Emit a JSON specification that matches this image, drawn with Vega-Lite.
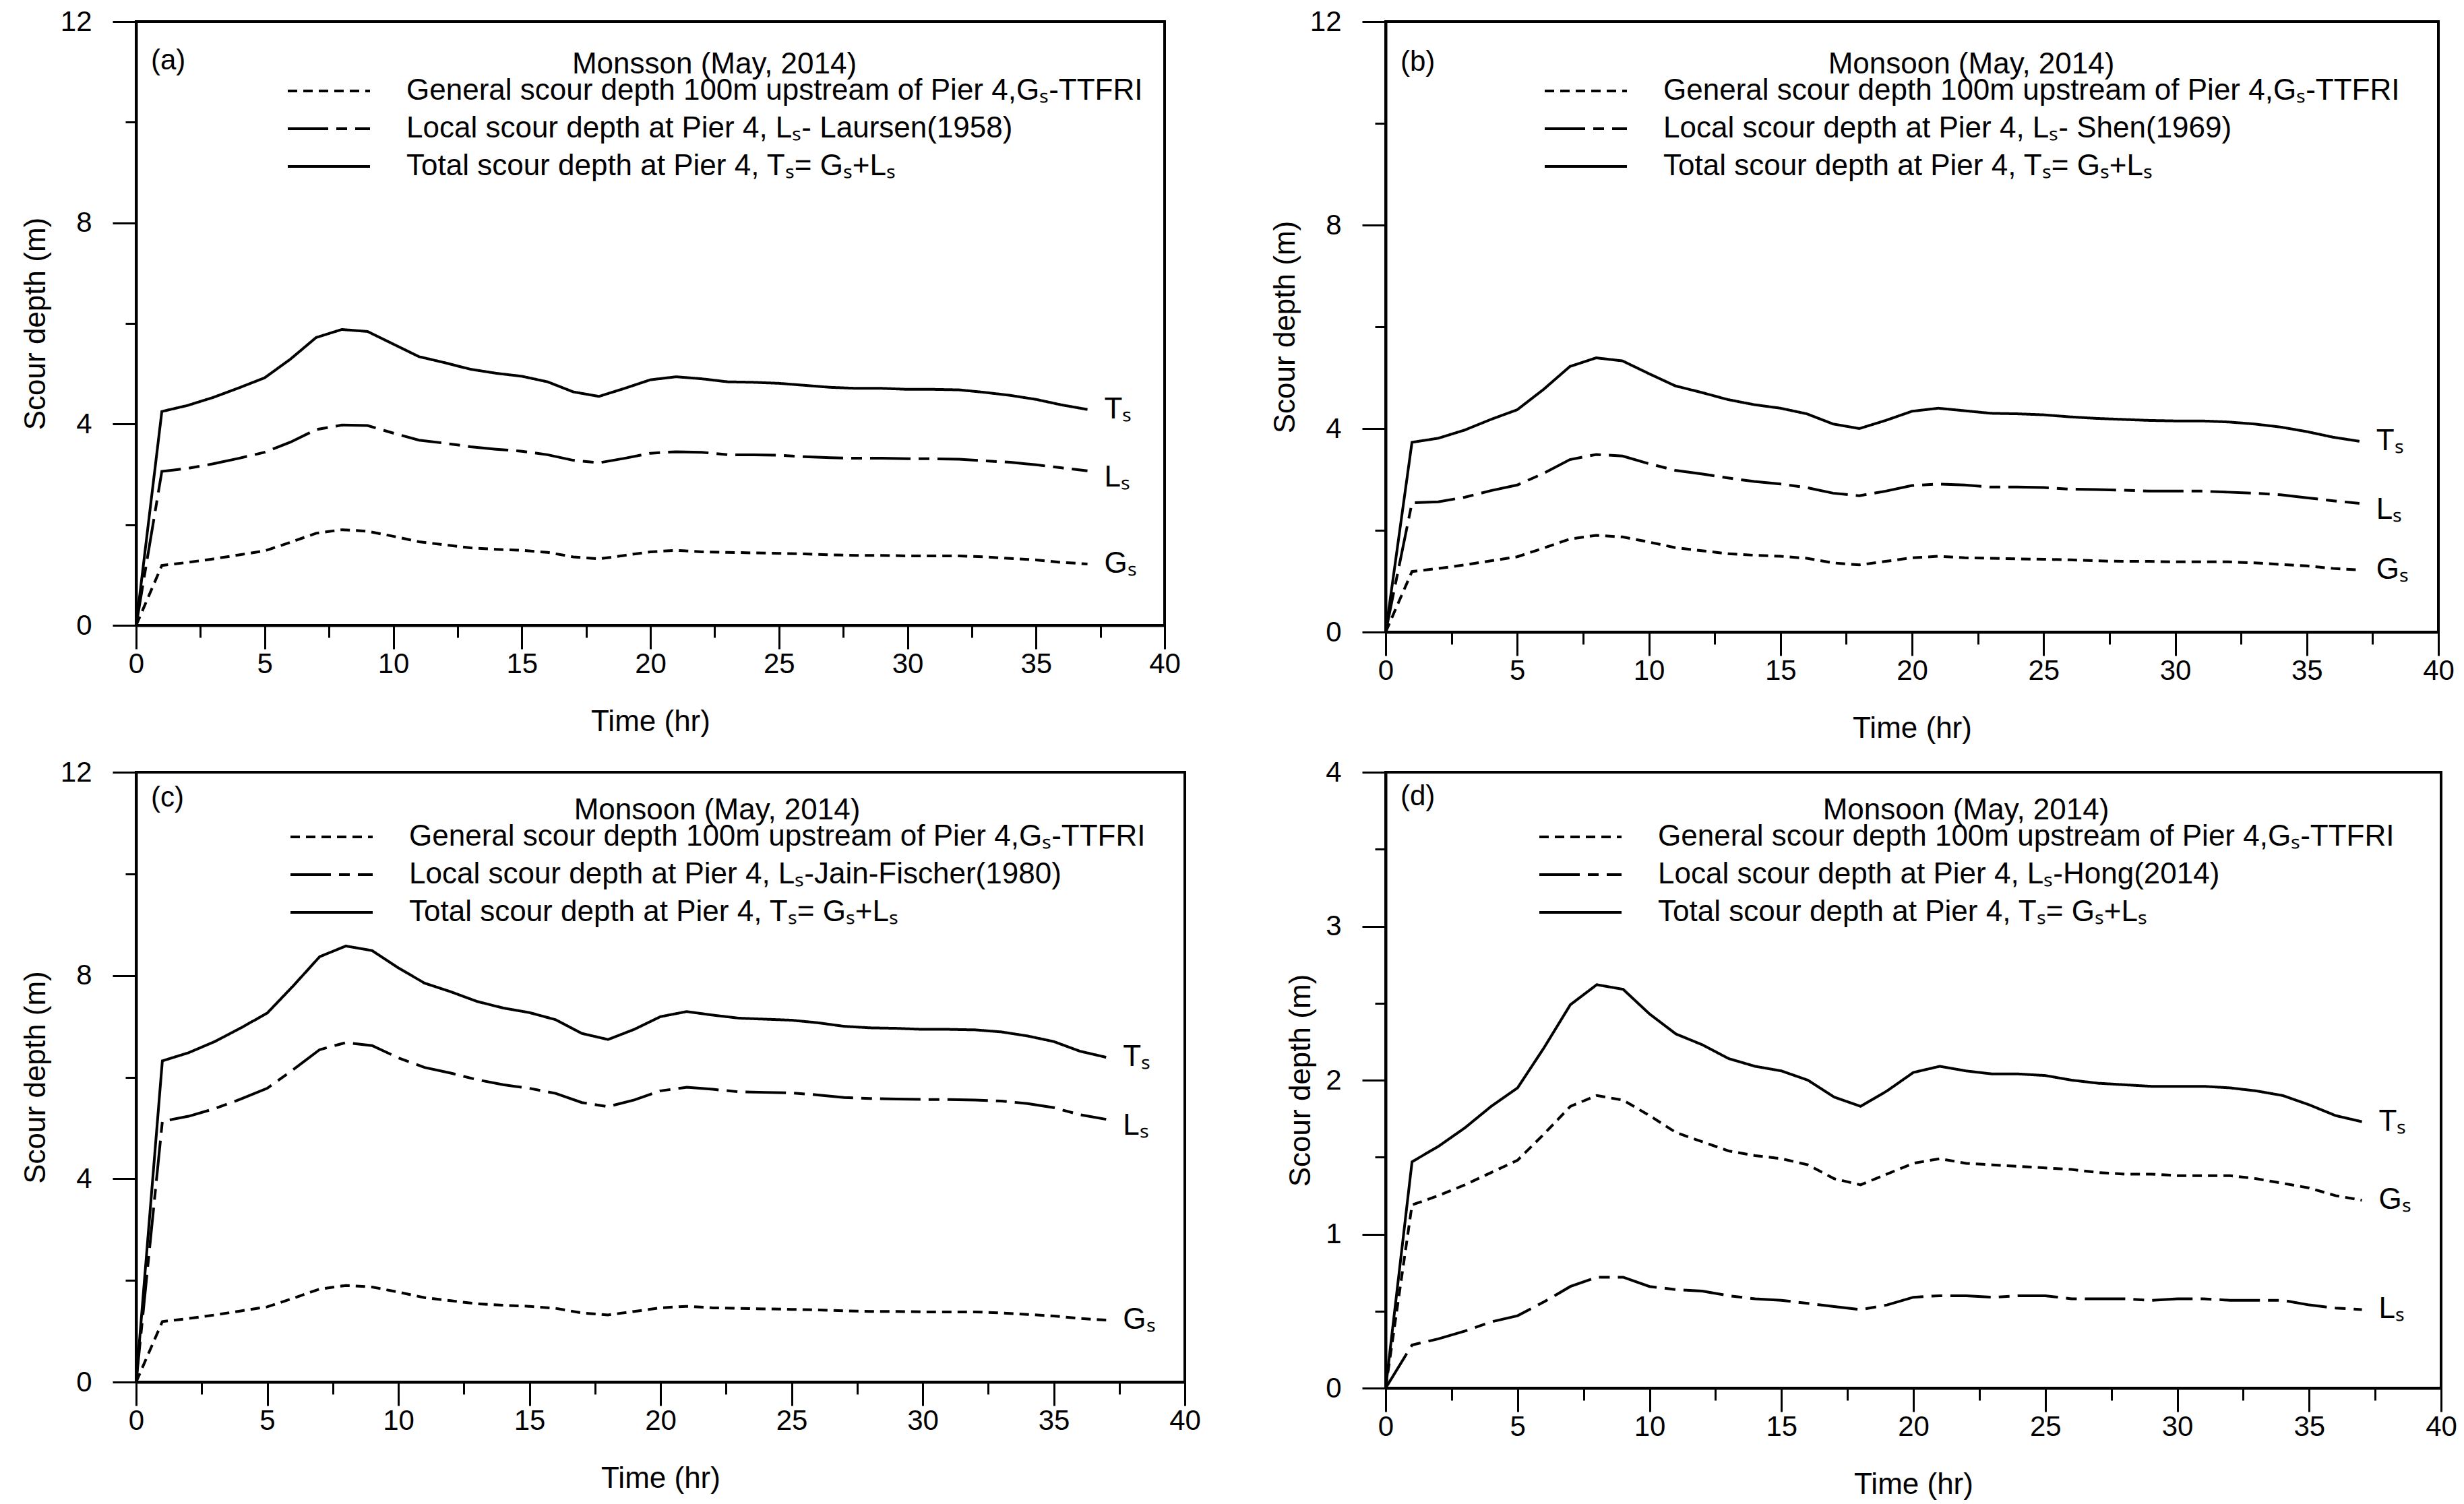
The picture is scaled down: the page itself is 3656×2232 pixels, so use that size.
{
  "$schema": "https://vega.github.io/schema/vega-lite/v6.json",
  "padding": {"left": 29, "top": 9, "right": 10, "bottom": 10},
  "background": "white",
  "datasets": {
    "scour": [
      {"t":0,"G":0,"La":0,"Ta":0,"Lb":0,"Tb":0,"Lc":0,"Tc":0,"Ld":0,"Td":0},
      {"t":1,"G":1.19,"La":3.06,"Ta":4.25,"Lb":2.54,"Tb":3.73,"Lc":5.13,"Tc":6.32,"Ld":0.28,"Td":1.47},
      {"t":2,"G":1.25,"La":3.12,"Ta":4.37,"Lb":2.56,"Tb":3.81,"Lc":5.23,"Tc":6.48,"Ld":0.32,"Td":1.57},
      {"t":3,"G":1.32,"La":3.21,"Ta":4.53,"Lb":2.65,"Tb":3.97,"Lc":5.38,"Tc":6.70,"Ld":0.37,"Td":1.69},
      {"t":4,"G":1.40,"La":3.32,"Ta":4.72,"Lb":2.78,"Tb":4.18,"Lc":5.57,"Tc":6.97,"Ld":0.43,"Td":1.83},
      {"t":5,"G":1.48,"La":3.44,"Ta":4.92,"Lb":2.89,"Tb":4.37,"Lc":5.78,"Tc":7.26,"Ld":0.47,"Td":1.95},
      {"t":6,"G":1.65,"La":3.64,"Ta":5.29,"Lb":3.12,"Tb":4.77,"Lc":6.15,"Tc":7.80,"Ld":0.56,"Td":2.21},
      {"t":7,"G":1.83,"La":3.89,"Ta":5.72,"Lb":3.39,"Tb":5.22,"Lc":6.54,"Tc":8.37,"Ld":0.66,"Td":2.49},
      {"t":8,"G":1.90,"La":3.98,"Ta":5.88,"Lb":3.49,"Tb":5.39,"Lc":6.68,"Tc":8.58,"Ld":0.72,"Td":2.62},
      {"t":9,"G":1.87,"La":3.97,"Ta":5.84,"Lb":3.46,"Tb":5.33,"Lc":6.62,"Tc":8.49,"Ld":0.72,"Td":2.59},
      {"t":10,"G":1.77,"La":3.82,"Ta":5.59,"Lb":3.31,"Tb":5.08,"Lc":6.38,"Tc":8.15,"Ld":0.66,"Td":2.43},
      {"t":11,"G":1.66,"La":3.68,"Ta":5.34,"Lb":3.18,"Tb":4.84,"Lc":6.19,"Tc":7.85,"Ld":0.64,"Td":2.30},
      {"t":12,"G":1.60,"La":3.62,"Ta":5.22,"Lb":3.11,"Tb":4.71,"Lc":6.08,"Tc":7.68,"Ld":0.63,"Td":2.23},
      {"t":13,"G":1.54,"La":3.55,"Ta":5.09,"Lb":3.03,"Tb":4.57,"Lc":5.95,"Tc":7.49,"Ld":0.60,"Td":2.14},
      {"t":14,"G":1.51,"La":3.50,"Ta":5.01,"Lb":2.96,"Tb":4.47,"Lc":5.85,"Tc":7.36,"Ld":0.58,"Td":2.09},
      {"t":15,"G":1.49,"La":3.46,"Ta":4.95,"Lb":2.91,"Tb":4.40,"Lc":5.78,"Tc":7.27,"Ld":0.57,"Td":2.06},
      {"t":16,"G":1.45,"La":3.39,"Ta":4.84,"Lb":2.84,"Tb":4.29,"Lc":5.68,"Tc":7.13,"Ld":0.55,"Td":2.00},
      {"t":17,"G":1.36,"La":3.28,"Ta":4.64,"Lb":2.73,"Tb":4.09,"Lc":5.50,"Tc":6.86,"Ld":0.53,"Td":1.89},
      {"t":18,"G":1.32,"La":3.23,"Ta":4.55,"Lb":2.68,"Tb":4.00,"Lc":5.42,"Tc":6.74,"Ld":0.51,"Td":1.83},
      {"t":19,"G":1.39,"La":3.32,"Ta":4.71,"Lb":2.77,"Tb":4.16,"Lc":5.55,"Tc":6.94,"Ld":0.54,"Td":1.93},
      {"t":20,"G":1.46,"La":3.42,"Ta":4.88,"Lb":2.88,"Tb":4.34,"Lc":5.73,"Tc":7.19,"Ld":0.59,"Td":2.05},
      {"t":21,"G":1.49,"La":3.45,"Ta":4.94,"Lb":2.91,"Tb":4.40,"Lc":5.80,"Tc":7.29,"Ld":0.60,"Td":2.09},
      {"t":22,"G":1.46,"La":3.44,"Ta":4.90,"Lb":2.89,"Tb":4.35,"Lc":5.76,"Tc":7.22,"Ld":0.60,"Td":2.06},
      {"t":23,"G":1.45,"La":3.39,"Ta":4.84,"Lb":2.85,"Tb":4.30,"Lc":5.71,"Tc":7.16,"Ld":0.59,"Td":2.04},
      {"t":24,"G":1.44,"La":3.39,"Ta":4.83,"Lb":2.85,"Tb":4.29,"Lc":5.70,"Tc":7.14,"Ld":0.60,"Td":2.04},
      {"t":25,"G":1.43,"La":3.38,"Ta":4.81,"Lb":2.84,"Tb":4.27,"Lc":5.69,"Tc":7.12,"Ld":0.60,"Td":2.03},
      {"t":26,"G":1.42,"La":3.35,"Ta":4.77,"Lb":2.81,"Tb":4.23,"Lc":5.65,"Tc":7.07,"Ld":0.58,"Td":2.00},
      {"t":27,"G":1.40,"La":3.33,"Ta":4.73,"Lb":2.80,"Tb":4.20,"Lc":5.60,"Tc":7.00,"Ld":0.58,"Td":1.98},
      {"t":28,"G":1.39,"La":3.32,"Ta":4.71,"Lb":2.79,"Tb":4.18,"Lc":5.58,"Tc":6.97,"Ld":0.58,"Td":1.97},
      {"t":29,"G":1.39,"La":3.32,"Ta":4.71,"Lb":2.77,"Tb":4.16,"Lc":5.57,"Tc":6.96,"Ld":0.57,"Td":1.96},
      {"t":30,"G":1.38,"La":3.31,"Ta":4.69,"Lb":2.77,"Tb":4.15,"Lc":5.56,"Tc":6.94,"Ld":0.58,"Td":1.96},
      {"t":31,"G":1.38,"La":3.31,"Ta":4.69,"Lb":2.77,"Tb":4.15,"Lc":5.56,"Tc":6.94,"Ld":0.58,"Td":1.96},
      {"t":32,"G":1.38,"La":3.30,"Ta":4.68,"Lb":2.75,"Tb":4.13,"Lc":5.55,"Tc":6.93,"Ld":0.57,"Td":1.95},
      {"t":33,"G":1.36,"La":3.27,"Ta":4.63,"Lb":2.73,"Tb":4.09,"Lc":5.53,"Tc":6.89,"Ld":0.57,"Td":1.93},
      {"t":34,"G":1.33,"La":3.24,"Ta":4.57,"Lb":2.70,"Tb":4.03,"Lc":5.48,"Tc":6.81,"Ld":0.57,"Td":1.90},
      {"t":35,"G":1.30,"La":3.19,"Ta":4.49,"Lb":2.64,"Tb":3.94,"Lc":5.40,"Tc":6.70,"Ld":0.54,"Td":1.84},
      {"t":36,"G":1.25,"La":3.13,"Ta":4.38,"Lb":2.58,"Tb":3.83,"Lc":5.26,"Tc":6.51,"Ld":0.52,"Td":1.77},
      {"t":37,"G":1.22,"La":3.07,"Ta":4.29,"Lb":2.53,"Tb":3.75,"Lc":5.17,"Tc":6.39,"Ld":0.51,"Td":1.73}
    ]
  },
  "data": {"name": "scour"},
  "config": {
    "font": "Liberation Sans",
    "view": {"stroke": "black", "strokeWidth": 4},
    "axis": {
      "grid": false,
      "domainColor": "black",
      "domainWidth": 4,
      "tickColor": "black",
      "tickWidth": 3,
      "labelColor": "black",
      "labelFont": "Liberation Sans",
      "labelFontSize": 42,
      "labelFlush": false,
      "labelOverlap": false,
      "titleFont": "Liberation Sans",
      "titleFontSize": 44,
      "titleFontWeight": "normal",
      "titleColor": "black",
      "format": "d"
    },
    "legend": {
      "orient": "none",
      "titleFont": "Liberation Sans",
      "titleFontSize": 44,
      "titleFontWeight": "normal",
      "titleColor": "black",
      "titleAnchor": "middle",
      "titlePadding": -5,
      "titleLimit": 3000,
      "labelFont": "Liberation Sans",
      "labelFontSize": 44,
      "labelColor": "black",
      "labelLimit": 3000,
      "labelOffset": 52,
      "symbolType": "stroke",
      "symbolSize": 14884,
      "symbolStrokeWidth": 4,
      "symbolStrokeColor": "black",
      "clipHeight": 44,
      "rowPadding": 12,
      "padding": 0
    },
    "title": {"font": "Liberation Sans", "fontSize": 42, "fontWeight": "normal", "color": "black"}
  },
  "resolve": {
    "scale": {"x": "independent", "y": "independent", "strokeDash": "independent"},
    "axis": {"x": "independent", "y": "independent"},
    "legend": {"strokeDash": "independent"}
  },
  "bounds": "flush",
  "align": "each",
  "columns": 2,
  "spacing": {"row": 208, "column": 298},
  "concat": [
    {
      "width": 1526, "height": 896,
      "title": {"text": "(a)", "anchor": "start", "frame": "group", "orient": "top", "offset": 0, "dx": 22, "dy": 121, "baseline": "middle"},
      "layer": [
        {
          "transform": [{"fold": ["G", "La", "Ta"], "as": ["k", "v"]}],
          "mark": {"type": "line", "color": "black", "strokeWidth": 4},
          "encoding": {
            "x": {"field": "t", "type": "quantitative", "scale": {"domain": [0, 40], "nice": false},
                  "axis": {"title": "Time (hr)", "values": [0,2.5,5,7.5,10,12.5,15,17.5,20,22.5,25,27.5,30,32.5,35,37.5,40],
                           "labelExpr": "datum.value % 5 === 0 ? datum.label : ''",
                           "tickSize": {"condition": {"test": "datum.value % 5 === 0", "value": 35}, "value": 18},
                           "labelPadding": 2, "titlePadding": 43}},
            "y": {"field": "v", "type": "quantitative", "scale": {"domain": [0, 12], "nice": false},
                  "axis": {"title": "Scour depth (m)", "values": [0,2,4,6,8,10,12],
                           "labelExpr": "datum.value % 4 === 0 ? datum.label : ''",
                           "tickSize": {"condition": {"test": "datum.value % 4 === 0", "value": 35}, "value": 16},
                           "labelPadding": 31, "titlePadding": 14}},
            "strokeDash": {"field": "k", "type": "nominal",
                           "scale": {"domain": ["G", "La", "Ta"], "range": [[14, 9], [60, 12, 16, 12], [1, 0]]},
                           "legend": {"title": "Monsson (May, 2014)", "legendX": 223, "legendY": 42,
                                      "labelExpr": "datum.label == 'G' ? 'General scour depth 100m upstream of Pier 4,Gₛ-TTFRI' : datum.label == 'La' ? 'Local scour depth at Pier 4, Lₛ- Laursen(1958)' : 'Total scour depth at Pier 4, Tₛ= Gₛ+Lₛ'"}}
          }
        },
        {
          "transform": [{"filter": "datum.t == 37"}],
          "mark": {"type": "text", "text": "Tₛ", "align": "left", "baseline": "middle", "dx": 25, "fontSize": 44, "color": "black"},
          "encoding": {"x": {"field": "t", "type": "quantitative"}, "y": {"field": "Ta", "type": "quantitative"}}
        },
        {
          "transform": [{"filter": "datum.t == 37"}],
          "mark": {"type": "text", "text": "Lₛ", "align": "left", "baseline": "middle", "dx": 25, "dy": 10, "fontSize": 44, "color": "black"},
          "encoding": {"x": {"field": "t", "type": "quantitative"}, "y": {"field": "La", "type": "quantitative"}}
        },
        {
          "transform": [{"filter": "datum.t == 37"}],
          "mark": {"type": "text", "text": "Gₛ", "align": "left", "baseline": "middle", "dx": 25, "fontSize": 44, "color": "black"},
          "encoding": {"x": {"field": "t", "type": "quantitative"}, "y": {"field": "G", "type": "quantitative"}}
        }
      ]
    },
    {
      "width": 1562, "height": 906,
      "title": {"text": "(b)", "anchor": "start", "frame": "group", "orient": "top", "offset": 0, "dx": 22, "dy": 123, "baseline": "middle"},
      "layer": [
        {
          "transform": [{"fold": ["G", "Lb", "Tb"], "as": ["k", "v"]}],
          "mark": {"type": "line", "color": "black", "strokeWidth": 4},
          "encoding": {
            "x": {"field": "t", "type": "quantitative", "scale": {"domain": [0, 40], "nice": false},
                  "axis": {"title": "Time (hr)", "values": [0,2.5,5,7.5,10,12.5,15,17.5,20,22.5,25,27.5,30,32.5,35,37.5,40],
                           "labelExpr": "datum.value % 5 === 0 ? datum.label : ''",
                           "tickSize": {"condition": {"test": "datum.value % 5 === 0", "value": 35}, "value": 18},
                           "labelPadding": 2, "titlePadding": 43}},
            "y": {"field": "v", "type": "quantitative", "scale": {"domain": [0, 12], "nice": false},
                  "axis": {"title": "Scour depth (m)", "values": [0,2,4,6,8,10,12],
                           "labelExpr": "datum.value % 4 === 0 ? datum.label : ''",
                           "tickSize": {"condition": {"test": "datum.value % 4 === 0", "value": 35}, "value": 16},
                           "labelPadding": 31, "titlePadding": 14}},
            "strokeDash": {"field": "k", "type": "nominal",
                           "scale": {"domain": ["G", "Lb", "Tb"], "range": [[14, 9], [60, 12, 16, 12], [1, 0]]},
                           "legend": {"title": "Monsoon (May, 2014)", "legendX": 234, "legendY": 42,
                                      "labelExpr": "datum.label == 'G' ? 'General scour depth 100m upstream of Pier 4,Gₛ-TTFRI' : datum.label == 'Lb' ? 'Local scour depth at Pier 4, Lₛ- Shen(1969)' : 'Total scour depth at Pier 4, Tₛ= Gₛ+Lₛ'"}}
          }
        },
        {
          "transform": [{"filter": "datum.t == 37"}],
          "mark": {"type": "text", "text": "Tₛ", "align": "left", "baseline": "middle", "dx": 25, "fontSize": 44, "color": "black"},
          "encoding": {"x": {"field": "t", "type": "quantitative"}, "y": {"field": "Tb", "type": "quantitative"}}
        },
        {
          "transform": [{"filter": "datum.t == 37"}],
          "mark": {"type": "text", "text": "Lₛ", "align": "left", "baseline": "middle", "dx": 25, "dy": 10, "fontSize": 44, "color": "black"},
          "encoding": {"x": {"field": "t", "type": "quantitative"}, "y": {"field": "Lb", "type": "quantitative"}}
        },
        {
          "transform": [{"filter": "datum.t == 37"}],
          "mark": {"type": "text", "text": "Gₛ", "align": "left", "baseline": "middle", "dx": 25, "fontSize": 44, "color": "black"},
          "encoding": {"x": {"field": "t", "type": "quantitative"}, "y": {"field": "G", "type": "quantitative"}}
        }
      ]
    },
    {
      "width": 1556, "height": 905,
      "title": {"text": "(c)", "anchor": "start", "frame": "group", "orient": "top", "offset": 0, "dx": 22, "dy": 101, "baseline": "middle"},
      "layer": [
        {
          "transform": [{"fold": ["G", "Lc", "Tc"], "as": ["k", "v"]}],
          "mark": {"type": "line", "color": "black", "strokeWidth": 4},
          "encoding": {
            "x": {"field": "t", "type": "quantitative", "scale": {"domain": [0, 40], "nice": false},
                  "axis": {"title": "Time (hr)", "values": [0,2.5,5,7.5,10,12.5,15,17.5,20,22.5,25,27.5,30,32.5,35,37.5,40],
                           "labelExpr": "datum.value % 5 === 0 ? datum.label : ''",
                           "tickSize": {"condition": {"test": "datum.value % 5 === 0", "value": 35}, "value": 18},
                           "labelPadding": 2, "titlePadding": 43}},
            "y": {"field": "v", "type": "quantitative", "scale": {"domain": [0, 12], "nice": false},
                  "axis": {"title": "Scour depth (m)", "values": [0,2,4,6,8,10,12],
                           "labelExpr": "datum.value % 4 === 0 ? datum.label : ''",
                           "tickSize": {"condition": {"test": "datum.value % 4 === 0", "value": 35}, "value": 16},
                           "labelPadding": 31, "titlePadding": 14}},
            "strokeDash": {"field": "k", "type": "nominal",
                           "scale": {"domain": ["G", "Lc", "Tc"], "range": [[14, 9], [60, 12, 16, 12], [1, 0]]},
                           "legend": {"title": "Monsoon (May, 2014)", "legendX": 227, "legendY": 35,
                                      "labelExpr": "datum.label == 'G' ? 'General scour depth 100m upstream of Pier 4,Gₛ-TTFRI' : datum.label == 'Lc' ? 'Local scour depth at Pier 4, Lₛ-Jain-Fischer(1980)' : 'Total scour depth at Pier 4, Tₛ= Gₛ+Lₛ'"}}
          }
        },
        {
          "transform": [{"filter": "datum.t == 37"}],
          "mark": {"type": "text", "text": "Tₛ", "align": "left", "baseline": "middle", "dx": 25, "fontSize": 44, "color": "black"},
          "encoding": {"x": {"field": "t", "type": "quantitative"}, "y": {"field": "Tc", "type": "quantitative"}}
        },
        {
          "transform": [{"filter": "datum.t == 37"}],
          "mark": {"type": "text", "text": "Lₛ", "align": "left", "baseline": "middle", "dx": 25, "dy": 10, "fontSize": 44, "color": "black"},
          "encoding": {"x": {"field": "t", "type": "quantitative"}, "y": {"field": "Lc", "type": "quantitative"}}
        },
        {
          "transform": [{"filter": "datum.t == 37"}],
          "mark": {"type": "text", "text": "Gₛ", "align": "left", "baseline": "middle", "dx": 25, "fontSize": 44, "color": "black"},
          "encoding": {"x": {"field": "t", "type": "quantitative"}, "y": {"field": "G", "type": "quantitative"}}
        }
      ]
    },
    {
      "width": 1566, "height": 914,
      "title": {"text": "(d)", "anchor": "start", "frame": "group", "orient": "top", "offset": 0, "dx": 22, "dy": 99, "baseline": "middle"},
      "layer": [
        {
          "transform": [{"fold": ["G", "Ld", "Td"], "as": ["k", "v"]}],
          "mark": {"type": "line", "color": "black", "strokeWidth": 4},
          "encoding": {
            "x": {"field": "t", "type": "quantitative", "scale": {"domain": [0, 40], "nice": false},
                  "axis": {"title": "Time (hr)", "values": [0,2.5,5,7.5,10,12.5,15,17.5,20,22.5,25,27.5,30,32.5,35,37.5,40],
                           "labelExpr": "datum.value % 5 === 0 ? datum.label : ''",
                           "tickSize": {"condition": {"test": "datum.value % 5 === 0", "value": 35}, "value": 18},
                           "labelPadding": 2, "titlePadding": 43}},
            "y": {"field": "v", "type": "quantitative", "scale": {"domain": [0, 4], "nice": false},
                  "axis": {"title": "Scour depth (m)", "values": [0,0.5,1,1.5,2,2.5,3,3.5,4],
                           "labelExpr": "datum.value % 1 === 0 ? datum.label : ''",
                           "tickSize": {"condition": {"test": "datum.value % 1 === 0", "value": 35}, "value": 16},
                           "labelPadding": 31, "titlePadding": 14}},
            "strokeDash": {"field": "k", "type": "nominal",
                           "scale": {"domain": ["G", "Ld", "Td"], "range": [[14, 9], [60, 12, 16, 12], [1, 0]]},
                           "legend": {"title": "Monsoon (May, 2014)", "legendX": 226, "legendY": 35,
                                      "labelExpr": "datum.label == 'G' ? 'General scour depth 100m upstream of Pier 4,Gₛ-TTFRI' : datum.label == 'Ld' ? 'Local scour depth at Pier 4, Lₛ-Hong(2014)' : 'Total scour depth at Pier 4, Tₛ= Gₛ+Lₛ'"}}
          }
        },
        {
          "transform": [{"filter": "datum.t == 37"}],
          "mark": {"type": "text", "text": "Tₛ", "align": "left", "baseline": "middle", "dx": 25, "fontSize": 44, "color": "black"},
          "encoding": {"x": {"field": "t", "type": "quantitative"}, "y": {"field": "Td", "type": "quantitative"}}
        },
        {
          "transform": [{"filter": "datum.t == 37"}],
          "mark": {"type": "text", "text": "Lₛ", "align": "left", "baseline": "middle", "dx": 25, "fontSize": 44, "color": "black"},
          "encoding": {"x": {"field": "t", "type": "quantitative"}, "y": {"field": "Ld", "type": "quantitative"}}
        },
        {
          "transform": [{"filter": "datum.t == 37"}],
          "mark": {"type": "text", "text": "Gₛ", "align": "left", "baseline": "middle", "dx": 25, "fontSize": 44, "color": "black"},
          "encoding": {"x": {"field": "t", "type": "quantitative"}, "y": {"field": "G", "type": "quantitative"}}
        }
      ]
    }
  ]
}
